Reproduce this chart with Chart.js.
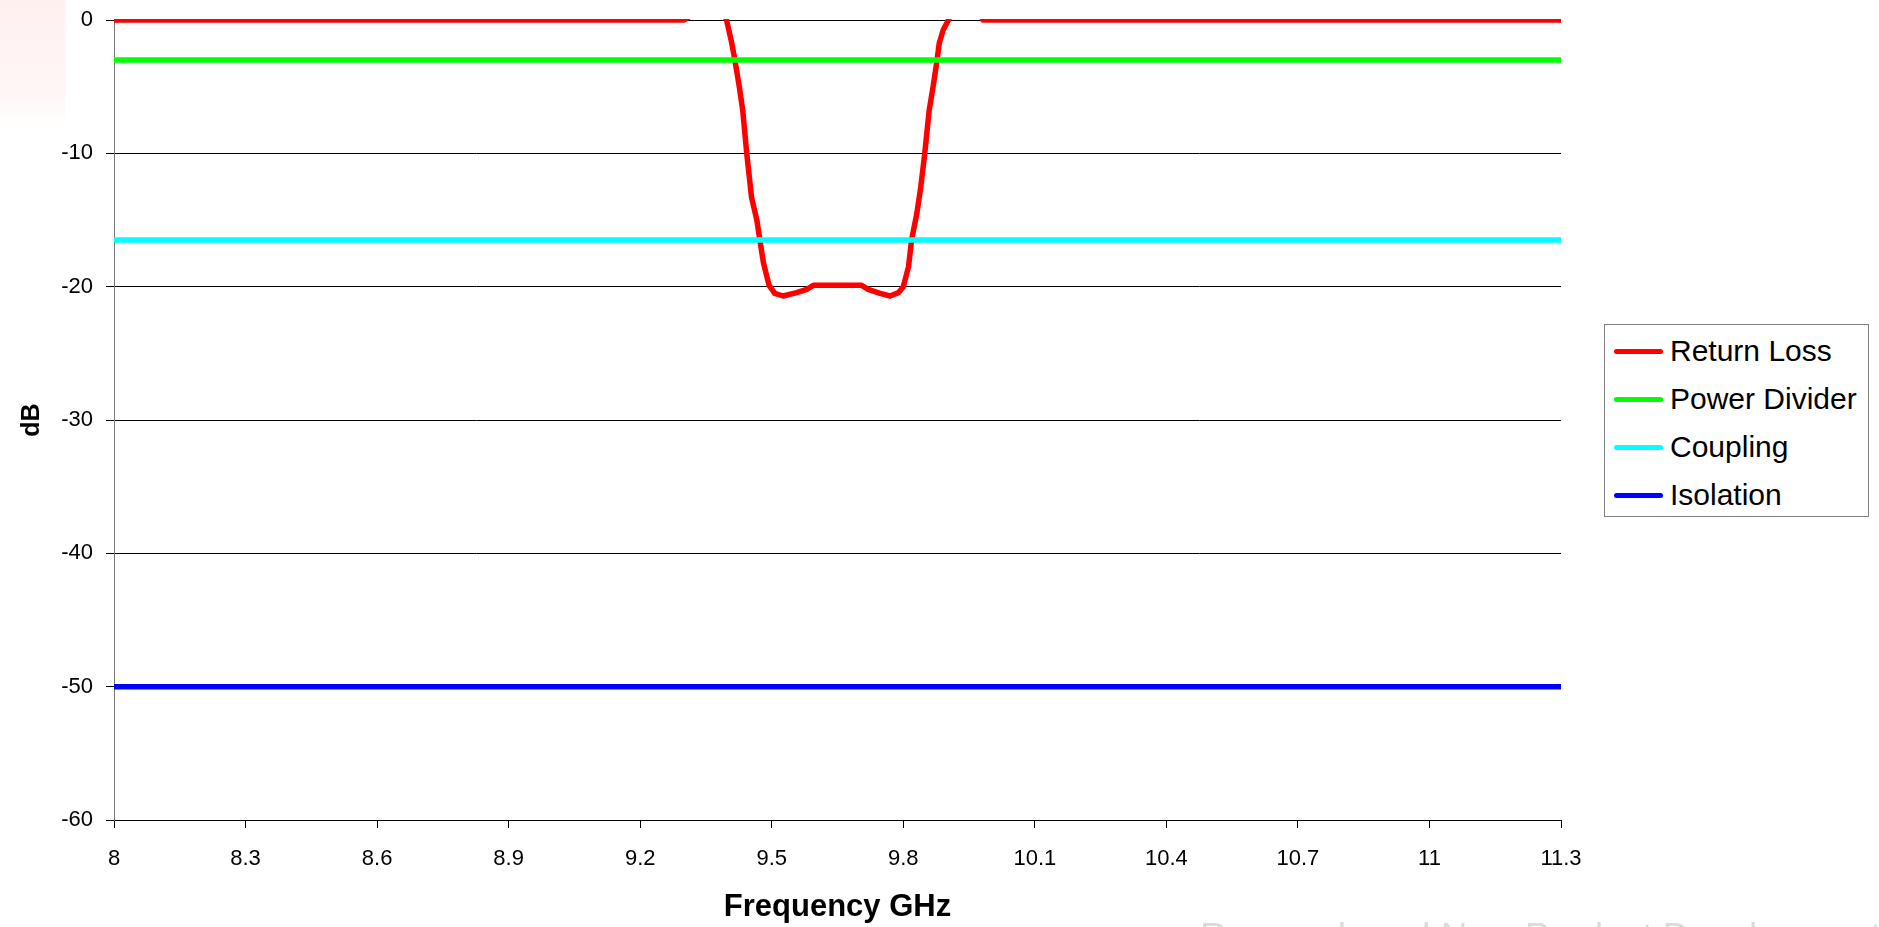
<!DOCTYPE html>
<html>
<head>
<meta charset="utf-8">
<title>Return Loss / Power Divider / Coupling / Isolation</title>
<script src="https://cdn.jsdelivr.net/npm/chart.js@4.4.1/dist/chart.umd.min.js"></script>
<style>
  html, body { margin: 0; padding: 0; background: #fff; overflow: hidden; }
  #wrap { position: relative; width: 1879px; height: 927px; overflow: hidden;
          font-family: "Liberation Sans", Arial, sans-serif; }
  #chart { position: absolute; left: 0; top: 0; }
  .corner { position: absolute; left: 0; top: 0; width: 65px; height: 130px;
            background: linear-gradient(#fff0f0, #fff6f6 70%, #fff); }
  #legend { position: absolute; left: 1604px; top: 324px; width: 263px; height: 191px;
            border: 1px solid #808080; background: #fff; }
  #legend .item { position: absolute; left: 0; height: 40px; width: 100%; }
  #legend .swatch { position: absolute; left: 9px; top: 18px; width: 49px; height: 5px;
                    border-radius: 3px; }
  #legend .label { position: absolute; left: 65px; top: 3px; font-size: 30px; line-height: 34px;
                   color: #000; white-space: nowrap; }
  .mark { position: absolute; left: 1200px; top: 918px; font-size: 37px; line-height: 1;
          color: #dadada; white-space: nowrap; }
</style>
</head>
<body>
<div id="wrap">
  <div class="corner"></div>
  <canvas id="chart" width="1879" height="927"></canvas>
  <div id="legend"></div>
  <div class="mark">Research and New Product Development</div>
</div>
<script>
// frequency axis (GHz) and the measured return loss (dB)
const freqs = [8.0, 9.30, 9.315, 9.34, 9.37, 9.39, 9.397, 9.408, 9.416, 9.426, 9.434, 9.443,
  9.454, 9.466, 9.473, 9.481, 9.494, 9.507, 9.526, 9.557, 9.58, 9.595, 9.705, 9.72,
  9.747, 9.77, 9.789, 9.80, 9.812, 9.819, 9.831, 9.84, 9.849, 9.859, 9.868, 9.876,
  9.882, 9.891, 9.903, 9.92, 9.95, 9.97, 9.982, 10.0, 11.3];
const returnLoss = [0, 0, 0.3, 1.2, 1.4, 0.6, 0, -1.6, -3.0, -5.0, -6.8, -10.0,
  -13.3, -15.0, -16.5, -18.2, -19.9, -20.5, -20.7, -20.45, -20.2, -19.9, -19.9, -20.2,
  -20.5, -20.7, -20.45, -20.0, -18.5, -16.5, -14.5, -12.5, -10.0, -6.8, -5.0, -3.25,
  -1.75, -0.75, 0, 1.2, 1.5, 0.8, 0, 0, 0];

// flat responses across the band
const span = [8, 11.3];
const powerDivider = [-3, -3];
const coupling = [-16.5, -16.5];
const isolation = [-50, -50];

const xTicks = [8, 8.3, 8.6, 8.9, 9.2, 9.5, 9.8, 10.1, 10.4, 10.7, 11, 11.3];
const yTicks = [0, -10, -20, -30, -40, -50, -60];

const seriesNames = ['Return Loss', 'Power Divider', 'Coupling', 'Isolation'];
const seriesColors = ['#ff0000', '#00ff00', '#00ffff', '#0000ff'];

function toPoints(xs, ys) {
  return xs.map((x, i) => ({ x: x, y: ys[i] }));
}

Chart.defaults.font.family = '"Liberation Sans", Arial, sans-serif';
Chart.defaults.color = '#000';

const series = [
  toPoints(freqs, returnLoss),
  toPoints(span, powerDivider),
  toPoints(span, coupling),
  toPoints(span, isolation)
];

new Chart(document.getElementById('chart'), {
  type: 'line',
  data: {
    datasets: series.map((pts, i) => ({
      label: seriesNames[i],
      data: pts,
      borderColor: seriesColors[i],
      backgroundColor: seriesColors[i],
      borderWidth: 5.5,
      borderJoinStyle: 'round',
      pointRadius: 0,
      tension: 0,
      fill: false,
      order: 4 - i,
      clip: i === 0 ? { left: 5, top: 1, right: 5, bottom: 5 } : 5
    }))
  },
  options: {
    responsive: false,
    animation: false,
    layout: { padding: { left: 0, top: 20, right: 318, bottom: 0 } },
    plugins: {
      legend: { display: false },
      tooltip: { enabled: false }
    },
    scales: {
      x: {
        type: 'linear',
        min: 8,
        max: 11.3,
        afterBuildTicks: s => { s.ticks = xTicks.map(v => ({ value: v })); },
        afterFit: s => { s.height = 107; },
        ticks: {
          font: { size: 22 },
          padding: 18,
          maxRotation: 0,
          autoSkip: false,
          callback: v => String(v)
        },
        grid: { drawOnChartArea: false, drawTicks: true, tickLength: 8, color: '#000', lineWidth: 1 },
        border: { display: true, color: '#000', width: 1 },
        title: {
          display: true,
          text: 'Frequency GHz',
          font: { size: 31, weight: 'bold' },
          padding: { top: 0, bottom: 1 }
        }
      },
      y: {
        min: -60,
        max: 0,
        afterBuildTicks: s => { s.ticks = yTicks.map(v => ({ value: v })); },
        // fixed axis width; the label overhang is already inside the top margin
        afterFit: s => { s.width = 114; s.paddingTop = 0; s.paddingBottom = 0; },
        ticks: {
          font: { size: 22 },
          padding: 13,
          callback: v => String(v)
        },
        grid: { color: '#000', lineWidth: 1, tickLength: 8 },
        border: { display: true, color: '#777', width: 1 },
        title: {
          display: true,
          text: 'dB',
          font: { size: 25, weight: 'bold' },
          padding: { top: 17, bottom: 0 }
        }
      }
    }
  }
});

// legend box on the right
const legend = document.getElementById('legend');
seriesNames.forEach((name, i) => {
  const item = document.createElement('div');
  item.className = 'item';
  item.style.top = (6 + i * 48) + 'px';
  item.innerHTML = '<span class="swatch" style="background:' + seriesColors[i] + '"></span>' +
                   '<span class="label">' + name + '</span>';
  legend.appendChild(item);
});
</script>
</body>
</html>
